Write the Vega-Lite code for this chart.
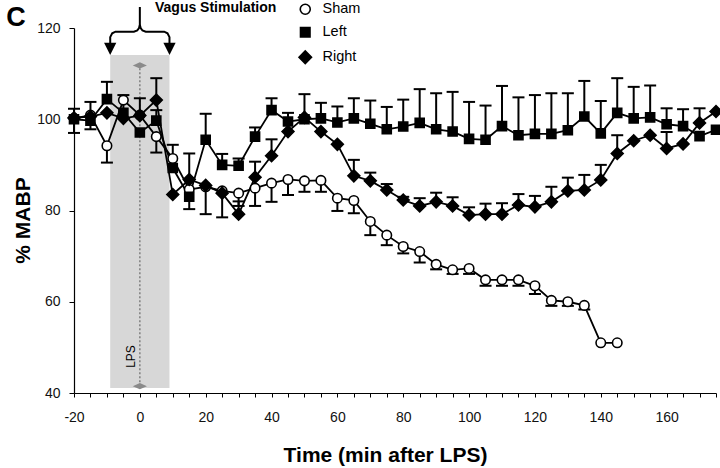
{
  "$schema": "https://vega.github.io/schema/vega-lite/v6.json",
  "width": 642,
  "height": 365,
  "autosize": {"type": "none"},
  "padding": {"left": 74, "top": 28, "right": 4, "bottom": 75},
  "background": "white",
  "config": {
    "view": {"stroke": null},
    "font": "Liberation Sans",
    "axis": {"grid": false, "tickColor": "black", "domainColor": "black", "domainWidth": 1.2, "tickWidth": 1, "labelFontSize": 14, "labelColor": "#111", "titleColor": "black", "titleFontWeight": "bold", "titleFont": "Liberation Sans"},
    "axisX": {"tickSize": 4, "labelPadding": 13, "labelFlush": false, "labelOverlap": false, "titleFontSize": 21, "titleX": 311, "titleY": 62, "titleBaseline": "middle", "titleAlign": "center"},
    "axisY": {"tickSize": 5, "labelPadding": 9, "titleFontSize": 21, "titleX": -51, "titleY": 192, "titleBaseline": "middle", "titleAlign": "center", "titleAngle": 270}
  },
  "datasets": {
    "pts": [
      {"g": "Sham", "t": -20, "v": 100.2, "lo": 97, "hi": 102.3},
      {"g": "Sham", "t": -15, "v": 100.9, "lo": 100.9, "hi": 103.8},
      {"g": "Sham", "t": -10, "v": 94.2, "lo": 90.5, "hi": 94.2},
      {"g": "Sham", "t": -5, "v": 104.2, "lo": 104.2, "hi": 104.2},
      {"g": "Sham", "t": 0, "v": 100.9, "lo": 100.9, "hi": 104.6},
      {"g": "Sham", "t": 5, "v": 96.2, "lo": 92.7, "hi": 96.2},
      {"g": "Sham", "t": 10, "v": 91.4, "lo": 91.4, "hi": 94.4},
      {"g": "Sham", "t": 15, "v": 84.6, "lo": 84.6, "hi": 84.6},
      {"g": "Sham", "t": 20, "v": 85.2, "lo": 79.2, "hi": 85.2},
      {"g": "Sham", "t": 25, "v": 84.3, "lo": 78.5, "hi": 84.3},
      {"g": "Sham", "t": 30, "v": 83.8, "lo": 81, "hi": 83.8},
      {"g": "Sham", "t": 35, "v": 84.9, "lo": 81.0, "hi": 84.9},
      {"g": "Sham", "t": 40, "v": 86.0, "lo": 81.9, "hi": 86.0},
      {"g": "Sham", "t": 45, "v": 86.8, "lo": 83.4, "hi": 86.8},
      {"g": "Sham", "t": 50, "v": 86.5, "lo": 84.1, "hi": 86.5},
      {"g": "Sham", "t": 55, "v": 86.6, "lo": 84.1, "hi": 86.6},
      {"g": "Sham", "t": 60, "v": 82.7, "lo": 79.9, "hi": 82.7},
      {"g": "Sham", "t": 65, "v": 82.2, "lo": 79.4, "hi": 82.2},
      {"g": "Sham", "t": 70, "v": 77.6, "lo": 74.6, "hi": 77.6},
      {"g": "Sham", "t": 75, "v": 74.6, "lo": 72.4, "hi": 74.6},
      {"g": "Sham", "t": 80, "v": 72.1, "lo": 70.6, "hi": 72.1},
      {"g": "Sham", "t": 85, "v": 71.0, "lo": 68.6, "hi": 71.0},
      {"g": "Sham", "t": 90, "v": 68.2, "lo": 67.1, "hi": 68.2},
      {"g": "Sham", "t": 95, "v": 67.0, "lo": 66.1, "hi": 67.0},
      {"g": "Sham", "t": 100, "v": 67.3, "lo": 66.1, "hi": 67.3},
      {"g": "Sham", "t": 105, "v": 64.8, "lo": 63.5, "hi": 64.8},
      {"g": "Sham", "t": 110, "v": 64.8, "lo": 63.5, "hi": 64.8},
      {"g": "Sham", "t": 115, "v": 64.8, "lo": 63.5, "hi": 64.8},
      {"g": "Sham", "t": 120, "v": 63.5, "lo": 61.7, "hi": 63.5},
      {"g": "Sham", "t": 125, "v": 60.3, "lo": 59.1, "hi": 60.3},
      {"g": "Sham", "t": 130, "v": 60.0, "lo": 59.1, "hi": 60.0},
      {"g": "Sham", "t": 135, "v": 59.2, "lo": 58.3, "hi": 59.2},
      {"g": "Sham", "t": 140, "v": 51.0, "lo": 51.0, "hi": 51.0},
      {"g": "Sham", "t": 145, "v": 51.0, "lo": 51.0, "hi": 51.0},
      {"g": "Left", "t": -20, "v": 100.0, "lo": 100.0, "hi": 100.0},
      {"g": "Left", "t": -15, "v": 99.7, "lo": 97.8, "hi": 99.7},
      {"g": "Left", "t": -10, "v": 104.4, "lo": 104.4, "hi": 108.2},
      {"g": "Left", "t": -5, "v": 101.4, "lo": 101.4, "hi": 105.3},
      {"g": "Left", "t": 0, "v": 97.1, "lo": 97.1, "hi": 97.1},
      {"g": "Left", "t": 5, "v": 99.7, "lo": 99.7, "hi": 102.0},
      {"g": "Left", "t": 10, "v": 89.3, "lo": 89.3, "hi": 89.3},
      {"g": "Left", "t": 15, "v": 83.0, "lo": 80.3, "hi": 83.0},
      {"g": "Left", "t": 20, "v": 95.5, "lo": 95.5, "hi": 101.2},
      {"g": "Left", "t": 25, "v": 90.0, "lo": 90.0, "hi": 92.4},
      {"g": "Left", "t": 30, "v": 89.8, "lo": 89.8, "hi": 91.4},
      {"g": "Left", "t": 35, "v": 96.2, "lo": 96.2, "hi": 98.2},
      {"g": "Left", "t": 40, "v": 102.0, "lo": 102.0, "hi": 104.6},
      {"g": "Left", "t": 45, "v": 99.5, "lo": 99.5, "hi": 101.4},
      {"g": "Left", "t": 50, "v": 100.0, "lo": 100.0, "hi": 105.5},
      {"g": "Left", "t": 55, "v": 100.2, "lo": 100.2, "hi": 103.6},
      {"g": "Left", "t": 60, "v": 99.3, "lo": 99.3, "hi": 102.8},
      {"g": "Left", "t": 65, "v": 100.2, "lo": 100.2, "hi": 104.6},
      {"g": "Left", "t": 70, "v": 99.0, "lo": 99.0, "hi": 104.1},
      {"g": "Left", "t": 75, "v": 97.8, "lo": 97.8, "hi": 102.7},
      {"g": "Left", "t": 80, "v": 98.4, "lo": 98.4, "hi": 104.3},
      {"g": "Left", "t": 85, "v": 99.2, "lo": 99.2, "hi": 106.6},
      {"g": "Left", "t": 90, "v": 97.8, "lo": 97.8, "hi": 105.7},
      {"g": "Left", "t": 95, "v": 97.3, "lo": 97.3, "hi": 106.0},
      {"g": "Left", "t": 100, "v": 95.7, "lo": 95.7, "hi": 103.8},
      {"g": "Left", "t": 105, "v": 95.5, "lo": 95.5, "hi": 103.0},
      {"g": "Left", "t": 110, "v": 98.5, "lo": 98.5, "hi": 107.3},
      {"g": "Left", "t": 115, "v": 96.5, "lo": 96.5, "hi": 104.8},
      {"g": "Left", "t": 120, "v": 96.8, "lo": 96.8, "hi": 105.3},
      {"g": "Left", "t": 125, "v": 96.8, "lo": 96.8, "hi": 105.7},
      {"g": "Left", "t": 130, "v": 97.6, "lo": 97.6, "hi": 105.7},
      {"g": "Left", "t": 135, "v": 100.6, "lo": 100.6, "hi": 108.4},
      {"g": "Left", "t": 140, "v": 96.9, "lo": 96.9, "hi": 104.0},
      {"g": "Left", "t": 145, "v": 101.4, "lo": 101.4, "hi": 109.0},
      {"g": "Left", "t": 150, "v": 100.2, "lo": 100.2, "hi": 107.1},
      {"g": "Left", "t": 155, "v": 100.4, "lo": 100.4, "hi": 107.4},
      {"g": "Left", "t": 160, "v": 98.9, "lo": 98.9, "hi": 102.4},
      {"g": "Left", "t": 165, "v": 98.5, "lo": 98.5, "hi": 102.2},
      {"g": "Left", "t": 170, "v": 96.3, "lo": 96.3, "hi": 96.3},
      {"g": "Left", "t": 175, "v": 97.7, "lo": 97.7, "hi": 97.7},
      {"g": "Right", "t": -20, "v": 100.3, "lo": 100.3, "hi": 100.3},
      {"g": "Right", "t": -15, "v": 100.6, "lo": 100.6, "hi": 100.6},
      {"g": "Right", "t": -10, "v": 101.4, "lo": 101.4, "hi": 101.4},
      {"g": "Right", "t": -5, "v": 100.2, "lo": 100.2, "hi": 100.2},
      {"g": "Right", "t": 0, "v": 100.8, "lo": 100.8, "hi": 100.8},
      {"g": "Right", "t": 5, "v": 104.2, "lo": 104.2, "hi": 109.0},
      {"g": "Right", "t": 10, "v": 83.5, "lo": 83.5, "hi": 83.5},
      {"g": "Right", "t": 15, "v": 86.8, "lo": 86.8, "hi": 92.5},
      {"g": "Right", "t": 20, "v": 85.5, "lo": 85.5, "hi": 85.5},
      {"g": "Right", "t": 25, "v": 83.8, "lo": 83.8, "hi": 83.8},
      {"g": "Right", "t": 30, "v": 79.2, "lo": 79.2, "hi": 82.0},
      {"g": "Right", "t": 35, "v": 87.3, "lo": 87.3, "hi": 90.7},
      {"g": "Right", "t": 40, "v": 92.0, "lo": 92.0, "hi": 95.6},
      {"g": "Right", "t": 45, "v": 97.3, "lo": 97.3, "hi": 97.3},
      {"g": "Right", "t": 50, "v": 100.4, "lo": 100.4, "hi": 100.4},
      {"g": "Right", "t": 55, "v": 97.3, "lo": 97.3, "hi": 97.3},
      {"g": "Right", "t": 60, "v": 94.5, "lo": 94.5, "hi": 94.5},
      {"g": "Right", "t": 65, "v": 87.6, "lo": 87.6, "hi": 91.1},
      {"g": "Right", "t": 70, "v": 86.5, "lo": 86.5, "hi": 88.3},
      {"g": "Right", "t": 75, "v": 84.5, "lo": 84.5, "hi": 85.8},
      {"g": "Right", "t": 80, "v": 82.3, "lo": 82.3, "hi": 83.0},
      {"g": "Right", "t": 85, "v": 81.0, "lo": 81.0, "hi": 82.7},
      {"g": "Right", "t": 90, "v": 81.9, "lo": 81.9, "hi": 83.9},
      {"g": "Right", "t": 95, "v": 81.0, "lo": 81.0, "hi": 82.9},
      {"g": "Right", "t": 100, "v": 79.0, "lo": 79.0, "hi": 80.7},
      {"g": "Right", "t": 105, "v": 79.2, "lo": 79.2, "hi": 81.5},
      {"g": "Right", "t": 110, "v": 79.2, "lo": 79.2, "hi": 81.6},
      {"g": "Right", "t": 115, "v": 81.2, "lo": 81.2, "hi": 83.6},
      {"g": "Right", "t": 120, "v": 80.8, "lo": 80.8, "hi": 83.2},
      {"g": "Right", "t": 125, "v": 81.9, "lo": 81.9, "hi": 85.2},
      {"g": "Right", "t": 130, "v": 84.3, "lo": 84.3, "hi": 87.2},
      {"g": "Right", "t": 135, "v": 84.5, "lo": 84.5, "hi": 87.8},
      {"g": "Right", "t": 140, "v": 86.7, "lo": 86.7, "hi": 90.0},
      {"g": "Right", "t": 145, "v": 92.5, "lo": 92.5, "hi": 96.5},
      {"g": "Right", "t": 150, "v": 95.3, "lo": 95.3, "hi": 95.3},
      {"g": "Right", "t": 155, "v": 96.5, "lo": 96.5, "hi": 96.5},
      {"g": "Right", "t": 160, "v": 93.6, "lo": 93.6, "hi": 97.2},
      {"g": "Right", "t": 165, "v": 94.6, "lo": 94.6, "hi": 94.6},
      {"g": "Right", "t": 170, "v": 99.2, "lo": 99.2, "hi": 102.4},
      {"g": "Right", "t": 175, "v": 101.7, "lo": 101.7, "hi": 101.7}
    ],
    "brace": [
      {"side": "L", "ord": 1, "t": -9, "v": 116.27},
      {"side": "L", "ord": 2, "t": -9, "v": 118.0},
      {"side": "L", "ord": 3, "t": -8.4, "v": 118.85},
      {"side": "L", "ord": 4, "t": -7.4, "v": 119.2},
      {"side": "L", "ord": 5, "t": -1.8, "v": 119.2},
      {"side": "L", "ord": 6, "t": -0.8, "v": 119.45},
      {"side": "L", "ord": 7, "t": -0.25, "v": 120.0},
      {"side": "L", "ord": 8, "t": 0, "v": 120.7},
      {"side": "L", "ord": 9, "t": 0, "v": 124.6},
      {"side": "R", "ord": 1, "t": 9, "v": 116.27},
      {"side": "R", "ord": 2, "t": 9, "v": 118.0},
      {"side": "R", "ord": 3, "t": 8.4, "v": 118.85},
      {"side": "R", "ord": 4, "t": 7.4, "v": 119.2},
      {"side": "R", "ord": 5, "t": 1.8, "v": 119.2},
      {"side": "R", "ord": 6, "t": 0.8, "v": 119.45},
      {"side": "R", "ord": 7, "t": 0.25, "v": 120.0},
      {"side": "R", "ord": 8, "t": 0, "v": 120.7}
    ]
  },
  "encoding": {
    "x": {"field": "t", "type": "quantitative", "title": "Time (min after LPS)",
      "scale": {"domain": [-20, 175], "nice": false, "zero": false},
      "axis": {"values": [-20, -15, -10, -5, 0, 5, 10, 15, 20, 25, 30, 35, 40, 45, 50, 55, 60, 65, 70, 75, 80, 85, 90, 95, 100, 105, 110, 115, 120, 125, 130, 135, 140, 145, 150, 155, 160, 165, 170, 175],
        "labelExpr": "datum.value % 20 === 0 && datum.value <= 160 ? '' + datum.value : ''"}},
    "y": {"field": "v", "type": "quantitative", "title": "% MABP",
      "scale": {"domain": [40, 120], "nice": false, "zero": false},
      "axis": {"values": [40, 60, 80, 100, 120], "labelExpr": "'' + datum.value"}}
  },
  "layer": [
    {
      "data": {"values": [{"t": -9, "end": 9, "v": 41.1, "high": 114.1}]},
      "mark": {"type": "rect", "color": "#d7d7d7"},
      "encoding": {
        "x2": {"field": "end"},
        "y2": {"field": "high"}
      }
    },
    {
      "data": {"values": [{"t": 0, "v": 41.5, "high": 111.8}]},
      "mark": {"type": "rule", "color": "#808080", "strokeWidth": 1.5, "strokeDash": [2, 2]},
      "encoding": {
        "y2": {"field": "high"}
      }
    },
    {
      "data": {"values": [{"t": 0, "v": 111.8}, {"t": 0, "v": 41.5}]},
      "mark": {"type": "point", "filled": true, "color": "#8a8a8a", "opacity": 1, "size": 200, "shape": "M-1,0L0,-0.45L1,0L0,0.45Z"}
    },
    {
      "data": {"values": [{"t": -2.7, "v": 48, "label": "LPS"}]},
      "mark": {"type": "text", "color": "black", "align": "center", "baseline": "middle", "angle": 270, "fontSize": 12},
      "encoding": {"text": {"field": "label"}}
    },
    {
      "data": {"values": [{"t": -37.6, "v": 120.4, "label": "C"}]},
      "mark": {"type": "text", "color": "black", "align": "center", "baseline": "alphabetic", "fontSize": 27, "fontWeight": "bold"},
      "encoding": {"text": {"field": "label"}}
    },
    {
      "data": {"name": "brace"},
      "mark": {"type": "line", "color": "black", "strokeWidth": 2},
      "encoding": {
        "detail": {"field": "side"},
        "order": {"field": "ord", "type": "quantitative"}
      }
    },
    {
      "data": {"values": [{"t": -9, "v": 115.4}, {"t": 9, "v": 115.4}]},
      "mark": {"type": "point", "filled": true, "color": "black", "opacity": 1, "size": 150, "shape": "M-1,-1L1,-1L0,1Z"}
    },
    {
      "data": {"values": [{"t": 4.6, "v": 124.4, "label": "Vagus Stimulation"}]},
      "mark": {"type": "text", "fontSize": 14, "fontWeight": "bold", "color": "black", "align": "left", "baseline": "middle"},
      "encoding": {"text": {"field": "label"}}
    },
    {
      "data": {"name": "pts"},
      "mark": {"type": "rule", "color": "black", "strokeWidth": 2},
      "encoding": {
        "y": {"field": "lo", "type": "quantitative", "title": "% MABP"},
        "y2": {"field": "hi"}
      }
    },
    {
      "data": {"name": "pts"},
      "transform": [{"filter": "datum.hi > datum.v"}],
      "mark": {"type": "point", "shape": "M-1,0L1,0", "size": 144, "stroke": "black", "strokeWidth": 2, "opacity": 1},
      "encoding": {
        "y": {"field": "hi", "type": "quantitative", "title": "% MABP"}
      }
    },
    {
      "data": {"name": "pts"},
      "transform": [{"filter": "datum.lo < datum.v"}],
      "mark": {"type": "point", "shape": "M-1,0L1,0", "size": 144, "stroke": "black", "strokeWidth": 2, "opacity": 1},
      "encoding": {
        "y": {"field": "lo", "type": "quantitative", "title": "% MABP"}
      }
    },
    {
      "data": {"name": "pts"},
      "mark": {"type": "line", "color": "black", "strokeWidth": 1.8},
      "encoding": {
        "detail": {"field": "g"}
      }
    },
    {
      "data": {"name": "pts"},
      "mark": {"type": "point", "filled": true, "strokeWidth": 1.6, "size": 90, "opacity": 1},
      "encoding": {
        "shape": {"field": "g", "type": "nominal",
          "scale": {"domain": ["Sham", "Left", "Right"], "range": ["circle", "M-0.95,-0.95H0.95V0.95H-0.95Z", "M-1.25,0L0,-1.25L1.25,0L0,1.25Z"]},
          "legend": {"title": null, "orient": "none", "legendX": 224, "legendY": -26, "labelFontSize": 14.5, "labelColor": "black", "symbolSize": 100, "symbolStrokeWidth": 1.6, "rowPadding": 6, "labelOffset": 10}},
        "fill": {"field": "g", "type": "nominal",
          "scale": {"domain": ["Sham", "Left", "Right"], "range": ["white", "black", "black"]},
          "legend": {"title": null, "orient": "none", "legendX": 224, "legendY": -26, "labelFontSize": 14.5, "labelColor": "black", "symbolSize": 100, "symbolStrokeWidth": 1.6, "rowPadding": 6, "labelOffset": 10}},
        "stroke": {"field": "g", "type": "nominal",
          "scale": {"domain": ["Sham", "Left", "Right"], "range": ["black", "black", "black"]},
          "legend": {"title": null, "orient": "none", "legendX": 224, "legendY": -26, "labelFontSize": 14.5, "labelColor": "black", "symbolSize": 100, "symbolStrokeWidth": 1.6, "rowPadding": 6, "labelOffset": 10}}
      }
    }
  ]
}
